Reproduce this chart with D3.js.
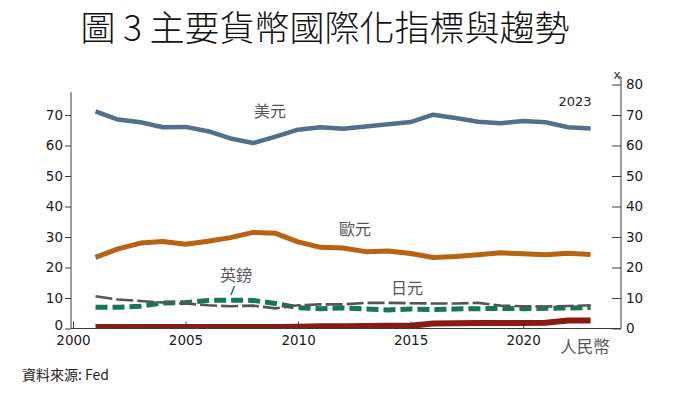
<!DOCTYPE html>
<html><head><meta charset="utf-8">
<script src="https://cdn.jsdelivr.net/npm/d3@7"></script>
<style>
html,body{margin:0;padding:0;background:#fff;}
svg{display:block;}
</style></head>
<body>
<svg id="c" width="700" height="393"></svg>
<script>
const years = d3.range(2001, 2024);
const usd = [71.2,68.5,67.6,66.0,66.1,64.7,62.3,60.8,62.9,65.2,66.0,65.5,66.2,67.0,67.7,70.1,69.0,67.8,67.3,68.0,67.6,66.0,65.6];
const eur = [23.3,26.1,28.0,28.5,27.6,28.6,29.8,31.5,31.2,28.4,26.6,26.4,25.2,25.4,24.6,23.3,23.6,24.2,24.8,24.5,24.2,24.7,24.3];
const gbp = [7.0,7.0,7.3,8.4,8.5,9.2,9.3,9.2,8.2,6.8,6.5,6.7,6.4,6.1,6.4,6.2,6.4,6.5,6.6,6.5,6.6,6.7,6.9];
const jpy = [10.6,9.5,9.0,8.5,8.2,7.6,7.3,7.5,6.6,7.6,7.9,7.9,8.4,8.4,8.3,8.2,8.2,8.4,7.5,7.3,7.2,7.4,7.6];
const cny = [0.5,0.5,0.5,0.5,0.5,0.5,0.5,0.5,0.5,0.6,0.7,0.7,0.8,0.9,0.9,1.6,1.7,1.8,1.8,1.8,1.9,2.6,2.6];
const yTicks = [0,10,20,30,40,50,60,70];
const yTicksRight = [0,10,20,30,40,50,60,70,80];
const xTicks = [2000,2005,2010,2015,2020];
const title = "圖 3 主要貨幣國際化指標與趨勢";
const source = "資料來源: Fed";

const svg = d3.select("#c");
const x = d3.scaleLinear().domain([2000, 2024.35]).range([73, 621]);
const y = d3.scaleLinear().domain([0, 80]).range([328.5, 84.5]);

const numFont = "'DejaVu Sans', sans-serif";
const cjkFont = "'Noto Sans CJK TC', 'Noto Sans CJK SC', sans-serif";

// title
svg.append("text").attr("x", 325).attr("y", 41).attr("text-anchor","middle")
  .style("font-family", cjkFont).style("font-size","35px").style("font-weight","300")
  .attr("fill","#111").text(title);

// clip
svg.append("defs").append("clipPath").attr("id","clip").append("rect")
  .attr("x",71).attr("y",60).attr("width",550).attr("height",268);

const g = svg.append("g").attr("clip-path","url(#clip)");
const line = arr => d3.line().x((d,i)=>x(years[i])).y(d=>y(d))(arr);

g.append("path").attr("d", line(usd)).attr("fill","none").attr("stroke","#52708c").attr("stroke-width",4.5).attr("stroke-linejoin","round");
g.append("path").attr("d", line(eur)).attr("fill","none").attr("stroke","#b9620f").attr("stroke-width",5).attr("stroke-linejoin","round");
g.append("path").attr("d", line(gbp)).attr("fill","none").attr("stroke","#15775a").attr("stroke-width",5).attr("stroke-dasharray","12,5");
g.append("path").attr("d", line(jpy)).attr("fill","none").attr("stroke","#555").attr("stroke-width",2.6).attr("stroke-dasharray","17,4");
g.append("path").attr("d", line(cny)).attr("fill","none").attr("stroke","#8c1a12").attr("stroke-width",6);

const axisColor = "#3a3a3a";
// left axis
const la = svg.append("g").attr("transform","translate(71,0)")
  .call(d3.axisLeft(y).tickValues(yTicks).tickSize(6).tickPadding(2).tickFormat(d3.format("d")));
la.select(".domain").remove();
la.selectAll(".tick").filter(d => d === 0).select("text").attr("dy","0.1em");
la.append("line").attr("x1",0).attr("x2",0).attr("y1",y(77.5)).attr("y2",y(0)).attr("stroke",axisColor);
// right axis (ticks inward)
const ra = svg.append("g").attr("transform","translate(621,0)")
  .call(d3.axisLeft(y).tickValues(yTicksRight).tickSize(9).tickFormat(d3.format("d")));
ra.select(".domain").remove();
ra.selectAll(".tick text").attr("x",5).attr("text-anchor","start");
ra.append("line").attr("x1",0).attr("x2",0).attr("y1",y(82.5)).attr("y2",y(0)).attr("stroke",axisColor);
ra.append("line").attr("x1",-3).attr("x2",0).attr("y1",y(82.5)).attr("y2",y(82.5)).attr("stroke",axisColor);
svg.append("text").attr("x",617).attr("y",79).attr("text-anchor","middle")
  .style("font-family",numFont).style("font-size","12px").attr("fill","#333").text("x");
// bottom axis (ticks inward)
const ba = svg.append("g").attr("transform","translate(0,"+y(0)+")")
  .call(d3.axisBottom(x).tickValues(xTicks).tickSize(0).tickPadding(7).tickFormat(d3.format("d")));
ba.select(".domain").remove();
ba.selectAll(".tick").append("line").attr("y1",0).attr("y2",-7).attr("stroke",axisColor);
ba.append("line").attr("x1",71).attr("x2",621).attr("y1",0).attr("y2",0).attr("stroke",axisColor);

svg.selectAll(".tick line").attr("stroke",axisColor);
svg.selectAll(".tick text").style("font-family",numFont).style("font-size","13.5px").attr("fill","#1a1a1a");

// series labels
const lab = (t,cx,cy,size) => svg.append("text").attr("x",cx).attr("y",cy).attr("text-anchor","middle")
  .attr("dominant-baseline","central").style("font-family",cjkFont).style("font-size",size||"16px").attr("fill","#555").text(t);
lab("美元", 270, 110);
lab("歐元", 355, 228);
lab("英鎊", 236, 274);
lab("日元", 407, 287);
lab("人民幣", 585, 346, "16.5px");
svg.append("line").attr("x1",234.5).attr("y1",286).attr("x2",231).attr("y2",295).attr("stroke","#15775a").attr("stroke-width",1.5);
svg.append("text").attr("x",575).attr("y",101).attr("text-anchor","middle").attr("dominant-baseline","central")
  .style("font-family",numFont).style("font-size","13px").attr("fill","#222").text("2023");

// source
svg.append("text").attr("x",22).attr("y",380).style("font-family",cjkFont).style("font-size","14px")
  .attr("fill","#222").text(source);
</script>
</body></html>
